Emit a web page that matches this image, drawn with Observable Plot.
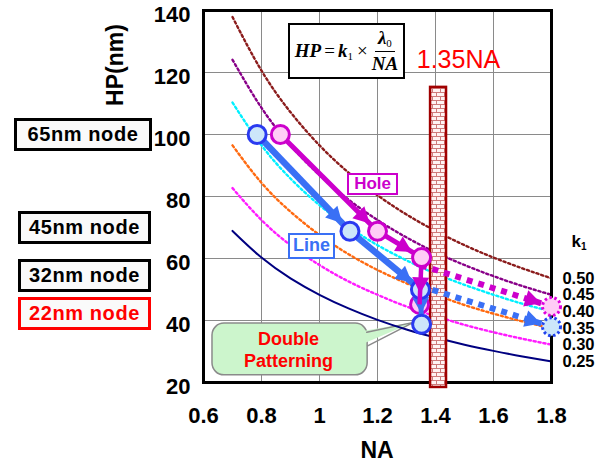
<!DOCTYPE html>
<html>
<head>
<meta charset="utf-8">
<script src="https://cdn.jsdelivr.net/npm/d3@7"></script>
<script src="https://cdn.jsdelivr.net/npm/@observablehq/plot@0.6"></script>
<style>
  body { margin: 0; background: #fff; }
  #wrap { position: relative; width: 598px; height: 465px; font-family: Arial, "Liberation Sans", sans-serif; overflow: hidden; }
  .box { position: absolute; box-sizing: border-box; display: flex; align-items: center; justify-content: center; font-weight: bold; white-space: nowrap; }
  .node { border: 3px solid #000; background: #fafafa; font-size: 20px; letter-spacing: 0.6px; color: #000; height: 33px; }
</style>
</head>
<body>
<div id="wrap"></div>
<script>
// ---------- data ----------
const xTicks = [0.6, 0.8, 1.0, 1.2, 1.4, 1.6, 1.8];
const yTicks = [20, 40, 60, 80, 100, 120, 140];
const naSamples = [0.7, 0.8, 0.9, 1.0, 1.1, 1.2, 1.3, 1.4, 1.5, 1.6, 1.7, 1.8];
const hpK050 = [137.9, 120.6, 107.2, 96.5, 87.7, 80.4, 74.2, 68.9, 64.3, 60.3, 56.8, 53.6];
const hpK045 = [124.1, 108.6, 96.5, 86.9, 79.0, 72.4, 66.8, 62.0, 57.9, 54.3, 51.1, 48.3];
const hpK040 = [110.3, 96.5, 85.8, 77.2, 70.2, 64.3, 59.4, 55.1, 51.5, 48.3, 45.4, 42.9];
const hpK035 = [96.5, 84.4, 75.1, 67.6, 61.4, 56.3, 52.0, 48.3, 45.0, 42.2, 39.7, 37.5];
const hpK030 = [82.7, 72.4, 64.3, 57.9, 52.6, 48.3, 44.5, 41.4, 38.6, 36.2, 34.1, 32.2];
const hpK025 = [68.9, 60.3, 53.6, 48.3, 43.9, 40.2, 37.1, 34.5, 32.2, 30.2, 28.4, 26.8];
const kLabels = ["0.50", "0.45", "0.40", "0.35", "0.30", "0.25"];

// Line (blue) and Hole (magenta) roadmap points
const lineNA = [0.785, 1.105, 1.348, 1.352];
const lineHP = [100, 68.8, 50, 38.8];
const holeNA = [0.865, 1.2, 1.352, 1.345];
const holeHP = [100, 68.8, 60.3, 45.2];
// dotted projections to NA 1.8
const lineProjNA = [1.35, 1.8];
const lineProjHP = [51, 38];
const holeProjNA = [1.35, 1.8];
const holeProjHP = [57.8, 44.5];

// 1.35NA hatched bar
const barNA = [1.383, 1.438];
const barHP = [18.4, 115.2];

// node labels
const nodeLabels = ["65nm node", "45nm node", "32nm node", "22nm node"];

// ---------- styles ----------
const curves = [hpK050, hpK045, hpK040, hpK035, hpK030, hpK025];
const curveColors = ["#8b1c1c", "#880088", "#00f0ff", "#ff6a10", "#ff1cff", "#000080"];
const blueArrow = "#3a70f5", blueStroke = "#2a3af0", blueFill = "#cce6fa";
const pinkArrow = "#cc00cc", pinkStroke = "#cc00cc", pinkFill = "#ffccf6";
const calloutFill = "#ccf5cc";

const idx = d3.range(naSamples.length);
const curveMarks = curves.map((hp, k) => Plot.line(idx, {
  x: i => naSamples[i], y: i => hp[i], curve: "natural",
  stroke: curveColors[k],
  strokeWidth: k === 5 ? 2 : 2.4,
  strokeDasharray: k === 5 ? null : "2.2,2.8"
}));

const seg = (xs, ys, a, b) => [{x1: xs[a], y1: ys[a], x2: xs[b], y2: ys[b]}];
const linkOpts = (color, w, dash) => ({x1: "x1", y1: "y1", x2: "x2", y2: "y2", stroke: color, strokeWidth: w, markerEnd: "arrow", strokeDasharray: dash});
const dotAt = (xs, ys, i, fill, stroke, extra = {}) => Plot.dot([i], {x: j => xs[j], y: j => ys[j], r: 9, fill, stroke, strokeWidth: 3, ...extra});

const chart = Plot.plot({
  width: 598, height: 465,
  marginLeft: 203, marginRight: 47, marginTop: 10, marginBottom: 83,
  style: {fontFamily: "Arial, 'Liberation Sans', sans-serif", fontSize: "22px", fontWeight: "bold", color: "#000", background: "transparent", overflow: "visible"},
  x: {domain: [0.6, 1.8], ticks: xTicks, tickFormat: d => String(d), tickSize: 0, tickPadding: 25, label: null},
  y: {domain: [20, 140], ticks: yTicks, tickFormat: d => String(d), tickSize: 0, tickPadding: 13, label: null},
  marks: [
    Plot.ruleX(xTicks.slice(1, -1), {stroke: "#8a8a8a", strokeWidth: 1}),
    Plot.ruleY(yTicks.slice(1, -1), {stroke: "#8a8a8a", strokeWidth: 1}),
    // Double Patterning callout
    Plot.rect([0], {x1: 0.631, x2: 1.166, y1: 22.3, y2: 39.0, rx: 12, fill: calloutFill, stroke: "#8a8a8a", strokeWidth: 1.5}),
    Plot.line([[1.13, 36.3], [1.324, 39.4], [1.13, 31.7]], {x: d => d[0], y: d => d[1], fill: calloutFill, stroke: "none"}),
    Plot.line([[1.163, 36.2], [1.324, 39.4], [1.166, 31.8]], {x: d => d[0], y: d => d[1], fill: "none", stroke: "#8a8a8a", strokeWidth: 1.5}),
    ...curveMarks,
    Plot.frame({stroke: "#000", strokeWidth: 3}),
    Plot.rect([0], {x1: barNA[0], x2: barNA[1], y1: barHP[0], y2: barHP[1], fill: "url(#brick)", stroke: "#a00000", strokeWidth: 2.5}),
    // diagonal solid arrows
    Plot.link(seg(lineNA, lineHP, 0, 1), linkOpts(blueArrow, 6.5)),
    Plot.link(seg(lineNA, lineHP, 1, 2), linkOpts(blueArrow, 6.5)),
    Plot.link(seg(holeNA, holeHP, 0, 1), linkOpts(pinkArrow, 5)),
    Plot.link(seg(holeNA, holeHP, 1, 2), linkOpts(pinkArrow, 5)),
    // dotted projections
    Plot.link(seg(lineProjNA, lineProjHP, 0, 1), linkOpts(blueArrow, 6, "6,6")),
    Plot.link(seg(holeProjNA, holeProjHP, 0, 1), linkOpts(pinkArrow, 6, "6,6")),
    // circles
    dotAt(holeNA, holeHP, 0, pinkFill, pinkStroke),
    dotAt(holeNA, holeHP, 1, pinkFill, pinkStroke),
    dotAt(lineNA, lineHP, 0, blueFill, blueStroke),
    dotAt(lineNA, lineHP, 1, blueFill, blueStroke),
    dotAt(holeNA, holeHP, 3, pinkFill, pinkStroke),
    Plot.link(seg(lineNA, lineHP, 2, 3), linkOpts(blueArrow, 5)),
    dotAt(lineNA, lineHP, 2, blueFill, blueStroke),
    Plot.link(seg(holeNA, holeHP, 2, 3), linkOpts(pinkArrow, 4.5)),
    dotAt(holeNA, holeHP, 2, pinkFill, pinkStroke),
    dotAt(lineNA, lineHP, 3, blueFill, blueStroke),
    // projected targets (dotted outline)
    dotAt(holeProjNA, holeProjHP, 1, pinkFill, "#dd00dd", {strokeDasharray: "2.5,2.5"}),
    dotAt(lineProjNA, lineProjHP, 1, blueFill, "#2244ee", {strokeDasharray: "2.5,2.5"}),
    // texts
    Plot.text(["1.35NA"], {x: 1.479, y: 123.9, text: d => d, fill: "#ff0000", fontSize: 25, fontWeight: "normal"}),
    Plot.text(["Double"], {x: 0.893, y: 33.9, text: d => d, fill: "#ff0000", fontSize: 18, fontWeight: "bold"}),
    Plot.text(["Patterning"], {x: 0.893, y: 26.8, text: d => d, fill: "#ff0000", fontSize: 18, fontWeight: "bold"}),
    Plot.text(d3.range(6), {x: () => 1.8, y: i => curves[i][curves[i].length - 1], text: i => kLabels[i], dx: 27, fontSize: 16.5, fontWeight: "bold", fill: "#000"})
  ]
});

const svg = d3.select(chart);
svg.insert("defs", ":first-child").html(
  '<pattern id="brick" width="8" height="8" patternUnits="userSpaceOnUse">' +
  '<rect width="8" height="8" fill="#fff4f4"/>' +
  '<path d="M0,0.5H8M0,4.5H8M0.5,0V4.5M4.5,4.5V8" stroke="#cf7c7c" stroke-width="1" fill="none"/>' +
  '</pattern>');
svg.selectAll("marker").each(function () {
  const m = d3.select(this);
  const c = m.attr("stroke");
  m.attr("markerUnits", "userSpaceOnUse").attr("viewBox", "-5 -5 10 10")
   .attr("markerWidth", 10).attr("markerHeight", 10).attr("overflow", "visible")
   .attr("fill", c).attr("stroke", "none");
  m.selectAll("path").attr("d", "M-27,-8.5L-11,0L-27,8.5Z").attr("fill", c).attr("stroke", "none");
});
// y tick labels sit slightly below their grid lines in the reference
svg.selectAll('g[aria-label^="y-axis"] text').each(function () {
  const t = this.getAttribute("transform") || "";
  this.setAttribute("transform", (t + " translate(0,4)").trim());
});

const wrap = document.getElementById("wrap");
wrap.appendChild(chart);

const sx = chart.scale("x"), sy = chart.scale("y");
const fx = d3.scaleLinear(sx.domain, sx.range);
const fy = d3.scaleLinear(sy.domain, sy.range);

function addBox(html, left, top, width, height, css) {
  const d = document.createElement("div");
  d.className = "box";
  d.innerHTML = html;
  Object.assign(d.style, {left: left + "px", top: top + "px", width: width + "px", height: height + "px"}, css || {});
  wrap.appendChild(d);
  return d;
}

// node boxes (vertical centre read against the HP axis)
const nodeHP = [100, 69.7, 54.5, 42];
nodeLabels.forEach((t, i) => {
  const d = addBox(t, i === 0 ? 14 : 18, fy(nodeHP[i]) - 16.5, i === 0 ? 138 : 133, 33);
  d.classList.add("node");
  if (i === 3) { d.style.borderColor = "#ff0000"; d.style.color = "#ff0000"; }
});

// Hole / Line labels
addBox("Hole", fx(1.097), fy(87.4), 51, 22, {border: "2px solid " + pinkStroke, background: "#fff", color: pinkStroke, fontSize: "17px"});
addBox("Line", fx(0.893), fy(68.2), 47, 26, {border: "2px solid " + blueArrow, background: "#fff", color: blueArrow, fontSize: "18px"});

// formula box
addBox(
  '<span>HP</span><span style="font-style:normal;font-weight:normal;margin:0 3px">=</span>' +
  '<span>k</span><span style="font-style:normal;font-weight:normal;font-size:11px;position:relative;top:5px">1</span>' +
  '<span style="font-style:normal;font-weight:normal;margin:0 4px">×</span>' +
  '<span style="display:inline-flex;flex-direction:column;align-items:center;line-height:1.2">' +
  '<span style="border-bottom:1.2px solid #000;padding:0 3px 1px 3px">λ<span style="font-style:normal;font-weight:normal;font-size:11px;position:relative;top:3px">0</span></span>' +
  '<span style="padding-top:1px">NA</span></span>',
  fx(0.893), fy(135.8), 117, 56,
  {border: "2.5px solid #000", background: "#fff", fontFamily: "'Liberation Serif','Times New Roman',serif", fontStyle: "italic", fontSize: "19px", color: "#000"});

// k1 heading
addBox('k<span style="font-size:10px;position:relative;top:5px">1</span>', fx(1.8) + 17, fy(65.3) - 12, 22, 24, {fontSize: "17px", color: "#000"});

// axis titles
addBox("NA", fx(1.2) - 30, 436, 60, 28, {fontSize: "23px", color: "#000"});
addBox("HP(nm)", 115 - 50, 65 - 14, 100, 28, {fontSize: "23px", color: "#000", transform: "rotate(-90deg)"});
</script>
</body>
</html>
